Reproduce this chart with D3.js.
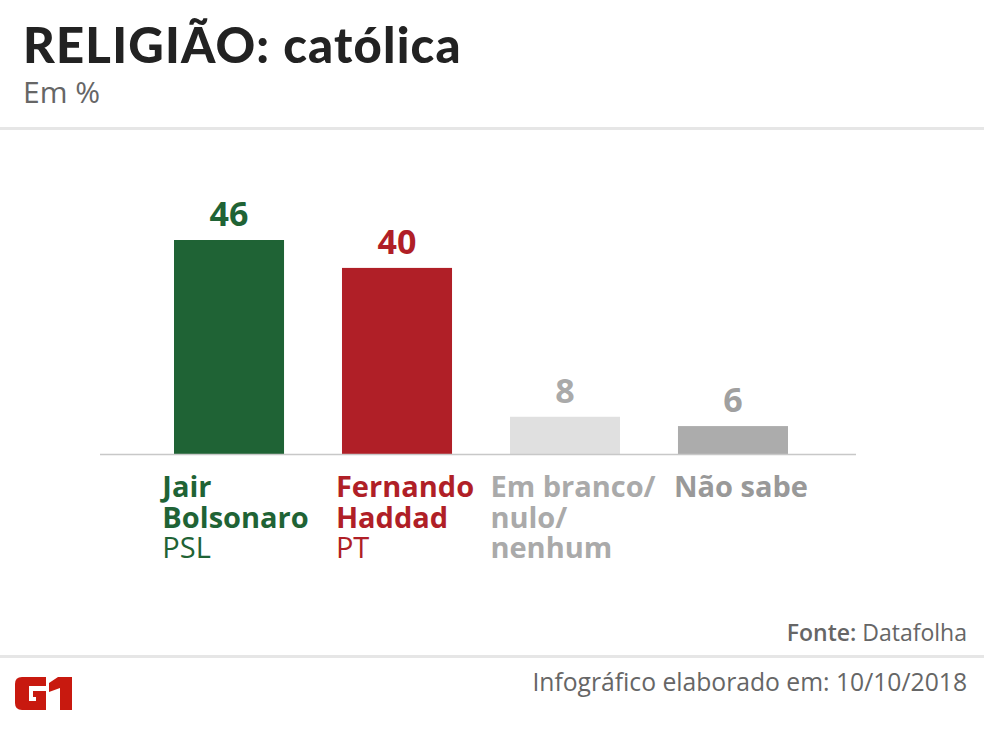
<!DOCTYPE html>
<html>
<head>
<meta charset="utf-8">
<script src="https://cdn.jsdelivr.net/npm/d3@7"></script>
<style>
  html, body { margin: 0; padding: 0; background: #fff; }
  svg { display: block; }
</style>
</head>
<body>
<div id="chart"></div>
<script>
// ---- data ----
const categories = ["Jair Bolsonaro", "Fernando Haddad", "Em branco/ nulo/ nenhum", "Não sabe"];
const labelLines = [["Jair", "Bolsonaro"], ["Fernando", "Haddad"], ["Em branco/", "nulo/", "nenhum"], ["Não sabe"]];
const parties = ["PSL", "PT", "", ""];
const values = [46, 40, 8, 6];
const barColors = ["#1f6335", "#b01f27", "#e0e0e0", "#acacac"];
const valueColors = ["#1f6335", "#b01f27", "#aaaaaa", "#a0a0a0"];
const labelColors = ["#1f6335", "#b01f27", "#aaaaaa", "#999999"];
const title = "RELIGIÃO: católica";
const subtitle = "Em %";
const sourceLabel = "Fonte:";
const sourceName = "Datafolha";
const footerText = "Infográfico elaborado em: 10/10/2018";

// ---- layout ----
const W = 984, H = 732;
const svg = d3.select("#chart").append("svg").attr("width", W).attr("height", H);

svg.append("text").attr("x", 23).attr("y", 63)
  .attr("font-family", "Lato").attr("font-weight", 900).attr("font-size", 49)
  .attr("letter-spacing", 1.2)
  .attr("fill", "#222").text(title);
svg.append("text").attr("x", 23).attr("y", 103)
  .attr("font-family", "Open Sans").attr("font-size", 30)
  .attr("fill", "#666").text(subtitle);

svg.append("rect").attr("x", 0).attr("y", 127).attr("width", W).attr("height", 3).attr("fill", "#e6e6e6");

const baseY = 454;
const x = d3.scaleBand().domain(categories).range([174, 788]).paddingInner(0.345).paddingOuter(0);
const y = d3.scaleLinear().domain([0, 46]).range([baseY, 240]);

// bars
svg.selectAll("rect.bar").data(values).join("rect").attr("class", "bar")
  .attr("x", (d, i) => x(categories[i]))
  .attr("y", d => y(d))
  .attr("width", x.bandwidth())
  .attr("height", d => baseY - y(d))
  .attr("fill", (d, i) => barColors[i]);

// baseline axis
svg.append("line").attr("x1", 100).attr("x2", 856).attr("y1", baseY + 0.5).attr("y2", baseY + 0.5)
  .attr("stroke", "#c8c8c8").attr("stroke-width", 1.5);

// value labels
svg.selectAll("text.val").data(values).join("text").attr("class", "val")
  .attr("x", (d, i) => x(categories[i]) + x.bandwidth() / 2)
  .attr("y", d => y(d) - 14)
  .attr("text-anchor", "middle")
  .attr("font-family", "Open Sans").attr("font-weight", 700).attr("font-size", 34)
  .attr("fill", (d, i) => valueColors[i])
  .text(d => d);

// category labels
categories.forEach((c, i) => {
  const g = svg.append("g");
  const t = g.append("text")
    .attr("font-family", "Open Sans").attr("font-size", 29)
    .attr("fill", labelColors[i]);
  labelLines[i].forEach((ln, j) => {
    t.append("tspan").attr("x", 0).attr("y", 497 + j * 30.5).attr("font-weight", 700).text(ln);
  });
  if (parties[i]) {
    t.append("tspan").attr("x", 0).attr("y", 497 + labelLines[i].length * 30.5).attr("font-weight", 400).text(parties[i]);
  }
  const w = t.node().getBBox().width;
  const cx = x(c) + x.bandwidth() / 2 + 8;
  g.attr("transform", `translate(${cx - w / 2},0)`);
});

// source
const src = svg.append("text").attr("x", 967).attr("y", 641).attr("text-anchor", "end")
  .attr("font-family", "Open Sans").attr("font-size", 23).attr("fill", "#666");
src.append("tspan").attr("font-weight", 600).text(sourceLabel + " ");
src.append("tspan").attr("font-weight", 400).text(sourceName);

svg.append("rect").attr("x", 0).attr("y", 655).attr("width", W).attr("height", 3).attr("fill", "#e6e6e6");

svg.append("text").attr("x", 967).attr("y", 691).attr("text-anchor", "end")
  .attr("font-family", "Open Sans").attr("font-size", 24.7).attr("fill", "#666").text(footerText);

// G1 logo
const logo = svg.append("g").attr("fill", "#c8190f");
logo.append("path").attr("d", "M15,684 Q15,677 22,677 L46,677 L46,686 L29,686 L29,701 L36,701 L36,697 L33,697 L33,691 L46,691 L46,710 L22,710 Q15,710 15,703 Z");
logo.append("path").attr("d", "M49,683 L58,677 L72,677 L72,710 L60,710 L60,688 L49,692 Z");
</script>
</body>
</html>
